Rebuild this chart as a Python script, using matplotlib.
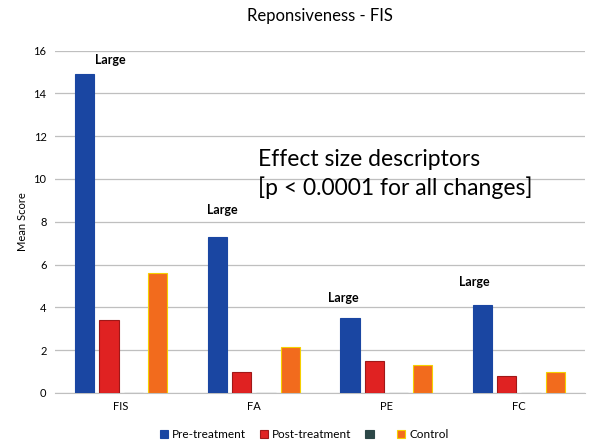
import numpy as np
import matplotlib
matplotlib.use("Agg")
import matplotlib.pyplot as plt

plt.rcParams["font.family"] = ["Lato", "DejaVu Sans"]

categories = ["FIS", "FA", "PE", "FC"]
series_names = ["Pre-treatment", "Post-treatment", "", "Control"]
pre_treatment = [14.9, 7.3, 3.5, 4.1]
post_treatment = [3.4, 1.0, 1.5, 0.8]
unnamed_series = [0, 0, 0, 0]
control = [5.6, 2.15, 1.3, 1.0]
effect_labels = ["Large", "Large", "Large", "Large"]

colors = ["#1a46a2", "#e02222", "#2d4848", "#f26b1d"]
edges = ["#1a46a2", "#a01818", "#2d4848", "#f5d000"]

fig, ax = plt.subplots(figsize=(5.9, 4.44), dpi=100)
fig.subplots_adjust(left=0.093, right=0.992, bottom=0.115, top=0.886)

x = np.arange(len(categories))
slot = 0.183
width = 0.145
values = [pre_treatment, post_treatment, unnamed_series, control]
for i, (vals, name) in enumerate(zip(values, series_names)):
    ax.bar(x + (i - 1.5) * slot, vals, width, color=colors[i],
           edgecolor=edges[i], linewidth=0.8, label=name if name else "  ",
           zorder=3)

# "Large" effect-size labels above the pre-treatment bars
label_dx = [0.19, 0.04, -0.05, -0.06]
label_dy = [0.65, 1.25, 0.95, 1.1]
for i, lab in enumerate(effect_labels):
    ax.text(x[i] - 1.5 * slot + label_dx[i], pre_treatment[i] + label_dy[i], lab,
            ha="center", va="center", fontsize=9, fontweight="bold")

ax.text(0.383, 0.64, "Effect size descriptors\n[p < 0.0001 for all changes]",
        transform=ax.transAxes, fontsize=16.5, va="center", ha="left",
        linespacing=1.35)

ax.set_xlim(-0.5, 3.5)
ax.set_ylim(0, 16)
ax.set_yticks(np.arange(0, 17, 2))
ax.set_xticks(x)
ax.set_xticklabels(categories)
ax.tick_params(axis="both", length=0, labelsize=8, pad=6)
ax.yaxis.grid(True, color="#bfbfbf", linewidth=0.9, zorder=0)
ax.set_axisbelow(True)
for s in ["top", "right", "left"]:
    ax.spines[s].set_visible(False)
ax.spines["bottom"].set_color("#bfbfbf")
ax.set_ylabel("Mean Score", fontsize=8)
ax.set_title("Reponsiveness - FIS", fontsize=12, pad=21)

ax.legend(loc="upper center", bbox_to_anchor=(0.47, -0.075), ncol=4,
          frameon=False, fontsize=8.5, handlelength=0.7, handleheight=0.7,
          handletextpad=0.3, columnspacing=1.2)

fig.savefig("out.png", dpi=100)
plt.close(fig)
